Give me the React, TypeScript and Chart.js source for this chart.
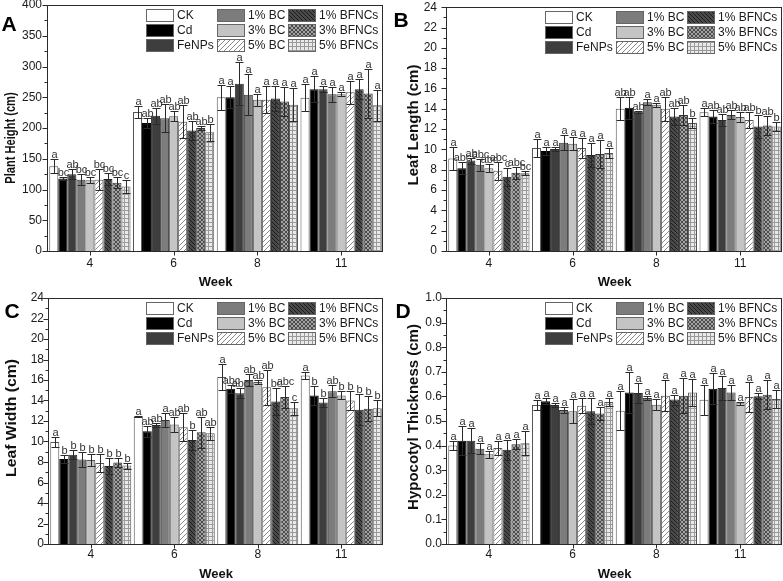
import React, { useEffect, useRef } from "react";
import { Chart, registerables } from "chart.js";
Chart.register(...registerables);

const FONT = "Arial, 'Liberation Sans', Helvetica, sans-serif";
Chart.defaults.font.family = FONT;

const weeks = ["4", "6", "8", "11"];
const treatments = ["CK", "Cd", "FeNPs", "1% BC", "3% BC", "5% BC", "1% BFNCs", "3% BFNCs", "5% BFNCs"];

// ---- A: Plant Height (rows = weeks, columns = treatments)
const heightMeans = [
  [138, 118, 125, 116, 115, 116, 117, 111, 105],
  [226, 208, 220, 216, 219, 210, 196, 200, 193],
  [250, 250, 272, 254, 246, 246, 248, 243, 238],
  [249, 263, 263, 255, 255, 258, 263, 256, 237],
];
const heightErrs = [
  [11, 3, 8, 9, 5, 17, 10, 9, 10],
  [9, 8, 13, 23, 8, 27, 16, 4, 14],
  [20, 18, 35, 33, 10, 22, 20, 24, 27],
  [22, 21, 5, 12, 3, 19, 16, 40, 25],
];
const heightSig = [
  ["a", "bc", "ab", "bc", "bc", "bc", "bc", "bc", "c"],
  ["a", "ab", "ab", "ab", "ab", "ab", "ab", "ab", "b"],
  ["a", "a", "a", "a", "a", "a", "a", "a", "a"],
  ["a", "a", "a", "a", "a", "a", "a", "a", "a"],
];

// ---- B: Leaf Length
const lengthMeans = [
  [9.1, 8.15, 8.9, 8.5, 8.15, 7.9, 7.3, 7.7, 7.65],
  [10.15, 9.85, 10.05, 10.65, 10.55, 10.15, 9.45, 9.55, 9.65],
  [14.0, 14.1, 13.7, 14.65, 14.4, 14.0, 13.25, 13.4, 12.6],
  [13.65, 13.25, 12.9, 13.4, 13.2, 12.9, 12.25, 12.35, 12.25],
];
const lengthErrs = [
  [1.1, 0.6, 0.3, 0.6, 0.4, 0.9, 0.9, 0.6, 0.2],
  [0.9, 0.4, 0.2, 0.75, 0.65, 0.95, 1.2, 1.4, 0.5],
  [1.15, 1.1, 0.1, 0.3, 0.2, 1.2, 0.85, 0.95, 0.5],
  [0.4, 0.65, 0.6, 0.45, 0.5, 0.8, 1.1, 0.9, 0.4],
];
const lengthSig = [
  ["a", "abc", "ab", "abc", "abc", "abc", "c", "abc", "bc"],
  ["a", "a", "a", "a", "a", "a", "a", "a", "a"],
  ["ab", "ab", "ab", "a", "a", "ab", "ab", "ab", "b"],
  ["a", "ab", "ab", "ab", "ab", "ab", "b", "ab", "b"],
];

// ---- C: Leaf Width
const widthMeans = [
  [9.95, 8.3, 8.7, 8.25, 8.2, 7.9, 7.6, 7.95, 7.65],
  [12.4, 11.0, 11.6, 12.1, 11.65, 11.4, 10.15, 10.9, 10.8],
  [16.3, 15.15, 14.7, 16.0, 15.8, 15.3, 13.9, 14.35, 13.25],
  [16.45, 14.5, 13.8, 14.9, 14.5, 14.0, 13.1, 13.2, 13.25],
];
const widthErrs = [
  [0.45, 0.4, 0.45, 0.7, 0.6, 0.9, 0.8, 0.4, 0.3],
  [0.05, 0.55, 0.2, 0.7, 0.75, 1.4, 1.0, 1.5, 0.65],
  [1.3, 0.4, 0.5, 0.6, 0.2, 1.7, 1.3, 1.05, 0.65],
  [0.35, 0.9, 0.45, 0.6, 0.4, 0.9, 1.5, 1.2, 0.75],
];
const widthSig = [
  ["a", "b", "b", "b", "b", "b", "b", "b", "b"],
  ["a", "ab", "ab", "a", "ab", "ab", "b", "ab", "ab"],
  ["a", "abc", "abc", "ab", "ab", "ab", "bc", "abc", "c"],
  ["a", "b", "b", "ab", "b", "b", "b", "b", "b"],
];

// ---- D: Hypocotyl Thickness
const hypoMeans = [
  [0.4, 0.42, 0.42, 0.387, 0.365, 0.39, 0.383, 0.405, 0.41],
  [0.565, 0.58, 0.565, 0.545, 0.54, 0.562, 0.54, 0.53, 0.577],
  [0.542, 0.616, 0.614, 0.593, 0.566, 0.603, 0.587, 0.603, 0.616],
  [0.586, 0.631, 0.634, 0.616, 0.572, 0.598, 0.601, 0.607, 0.589],
];
const hypoErrs = [
  [0.018, 0.06, 0.05, 0.022, 0.015, 0.03, 0.04, 0.02, 0.048],
  [0.02, 0.012, 0.008, 0.013, 0.05, 0.03, 0.054, 0.027, 0.015],
  [0.078, 0.082, 0.04, 0.008, 0.022, 0.064, 0.02, 0.07, 0.055],
  [0.062, 0.063, 0.047, 0.03, 0.005, 0.062, 0.012, 0.06, 0.035],
];
const hypoSig = [
  ["a", "a", "a", "a", "a", "a", "a", "a", "a"],
  ["a", "a", "a", "a", "a", "a", "a", "a", "a"],
  ["a", "a", "a", "a", "a", "a", "a", "a", "a"],
  ["a", "a", "a", "a", "a", "a", "a", "a", "a"],
];

// ---------- fills ----------
function makePattern(kind: string): CanvasPattern | string {
  const c = document.createElement("canvas");
  const s = kind === "slash" ? 5 : 4;
  c.width = s;
  c.height = s;
  const g = c.getContext("2d")!;
  if (kind === "slash") {
    g.fillStyle = "#ffffff";
    g.fillRect(0, 0, s, s);
    g.fillStyle = "#8a8a8a";
    for (let i = 0; i < s; i++) g.fillRect(i, s - 1 - i, 1, 1);
  } else if (kind === "back") {
    g.fillStyle = "#4a4a4a";
    g.fillRect(0, 0, s, s);
    g.fillStyle = "#1c1c1c";
    for (let i = 0; i < s; i++) g.fillRect(i, i, 1, 1);
  } else if (kind === "cross") {
    g.fillStyle = "#a2a2a2";
    g.fillRect(0, 0, s, s);
    g.fillStyle = "#4c4c4c";
    for (let i = 0; i < s; i++) {
      g.fillRect(i, i, 1, 1);
      g.fillRect(i, s - 1 - i, 1, 1);
    }
  } else {
    g.fillStyle = "#eaeaea";
    g.fillRect(0, 0, s, s);
    g.fillStyle = "#9a9a9a";
    g.fillRect(0, 0, s, 1);
    g.fillRect(0, 0, 1, s);
  }
  return g.createPattern(c, "repeat")!;
}

function fills(): (string | CanvasPattern)[] {
  return [
    "#ffffff",
    "#000000",
    "#3e3e3e",
    "#7c7c7c",
    "#c4c4c4",
    makePattern("slash"),
    makePattern("back"),
    makePattern("cross"),
    makePattern("grid"),
  ];
}
const borders = ["#555555", "#000000", "#2a2a2a", "#333333", "#555555", "#555555", "#222222", "#333333", "#555555"];

type Cfg = {
  letter: string;
  yTitle: string;
  means: number[][];
  errs: number[][];
  sig: string[][];
  max: number;
  step: number;
  decimals: number;
  cl: number; ct: number; cw: number; ch: number;
  al: number; at: number; ar: number; ab: number;
  yPad: number;
  xPad: number;
  letterX: number; letterY: number;
  yTitleX: number;
  yTitleY: number;
  yTitleScale: number;
  xTitleY: number;
};

function Panel({ cfg }: { cfg: Cfg }) {
  const ref = useRef<HTMLCanvasElement | null>(null);
  useEffect(() => {
    const canvas = ref.current!;
    const fl = fills();
    const datasets = treatments.map((t, ti) => ({
      label: t,
      data: weeks.map((_, wi) => cfg.means[wi][ti]),
      backgroundColor: fl[ti] as any,
      borderColor: borders[ti],
      borderWidth: 1,
      categoryPercentage: 0.97,
      barPercentage: 1.0,
    }));
    const ox = cfg.cl, oy = cfg.ct;
    const deco = {
      id: "deco",
      afterDatasetsDraw(chart: any) {
        const ctx = chart.ctx as CanvasRenderingContext2D;
        const ys = chart.scales.y;
        ctx.save();
        ctx.strokeStyle = "#2a2a2a";
        ctx.lineWidth = 1;
        ctx.fillStyle = "#333333";
        ctx.font = `11px ${FONT}`;
        ctx.textAlign = "center";
        ctx.textBaseline = "alphabetic";
        chart.data.datasets.forEach((ds: any, ti: number) => {
          const meta = chart.getDatasetMeta(ti);
          meta.data.forEach((bar: any, wi: number) => {
            const v = cfg.means[wi][ti];
            const e = cfg.errs[wi][ti];
            const x = Math.round(bar.x) + 0.5;
            const half = Math.max(2, Math.round(bar.width * 0.42));
            const yt = Math.round(ys.getPixelForValue(v + e)) + 0.5;
            const yb = Math.round(ys.getPixelForValue(v - e)) + 0.5;
            ctx.beginPath();
            ctx.moveTo(x, yt);
            ctx.lineTo(x, yb);
            ctx.moveTo(x - half, yt);
            ctx.lineTo(x + half, yt);
            ctx.moveTo(x - half, yb);
            ctx.lineTo(x + half, yb);
            ctx.stroke();
            ctx.fillText(cfg.sig[wi][ti], x, yt - 2);
          });
        });
        ctx.restore();
      },
      afterDraw(chart: any) {
        const ctx = chart.ctx as CanvasRenderingContext2D;
        const { left, top, right, bottom } = chart.chartArea;
        const ys = chart.scales.y;
        const xs = chart.scales.x;
        ctx.save();
        // frame
        ctx.strokeStyle = "#2a2a2a";
        ctx.lineWidth = 1;
        const L = Math.round(left) - 0.5, R = Math.round(right) - 0.5;
        const T = Math.round(top) + 0.5, B = Math.round(bottom) + 0.5;
        ctx.strokeRect(L, T, R - L, B - T);
        // y ticks
        ctx.beginPath();
        const tickVals: number[] = ys.ticks.map((t: any) => t.value);
        tickVals.forEach((v, i) => {
          const py = Math.round(ys.getPixelForValue(v)) + 0.5;
          ctx.moveTo(L - 5, py);
          ctx.lineTo(L, py);
          if (i < tickVals.length - 1) {
            const mv = (v + tickVals[i + 1]) / 2;
            const my = Math.round(ys.getPixelForValue(mv)) + 0.5;
            ctx.moveTo(L - 3, my);
            ctx.lineTo(L, my);
          }
        });
        // x ticks
        weeks.forEach((_, i) => {
          const px = Math.round(xs.getPixelForValue(i)) + 0.5;
          ctx.moveTo(px, B);
          ctx.lineTo(px, B + 4);
        });
        ctx.stroke();

        // legend
        const colX = [right - 237, right - 166, right - 95];
        const order = [
          [0, 1, 2],
          [3, 4, 5],
          [6, 7, 8],
        ];
        ctx.font = `12px ${FONT}`;
        ctx.textAlign = "left";
        ctx.textBaseline = "middle";
        order.forEach((col, c) => {
          col.forEach((ti, r) => {
            const cy = top + 10 + r * 15;
            const bx = Math.round(colX[c]) + 0.5;
            const by = Math.round(cy - 6) + 0.5;
            ctx.fillStyle = fl[ti] as any;
            ctx.fillRect(bx, by, 27, 12);
            ctx.strokeStyle = "#666666";
            ctx.strokeRect(bx, by, 27, 12);
            ctx.fillStyle = "#1a1a1a";
            ctx.fillText(treatments[ti], colX[c] + 31, cy + 0.5);
          });
        });

        // titles
        ctx.fillStyle = "#111111";
        ctx.font = `bold 13px ${FONT}`;
        ctx.textAlign = "center";
        ctx.textBaseline = "middle";
        ctx.fillText("Week", (left + right) / 2, cfg.xTitleY - oy);
        ctx.save();
        ctx.translate(cfg.yTitleX - ox, cfg.yTitleY - oy);
        ctx.rotate(-Math.PI / 2);
        ctx.scale(cfg.yTitleScale, 1);
        ctx.font = `bold 15px ${FONT}`;
        ctx.fillText(cfg.yTitle, 0, 0);
        ctx.restore();
        // panel letter
        ctx.font = `bold 21px ${FONT}`;
        ctx.fillStyle = "#000000";
        ctx.fillText(cfg.letter, cfg.letterX - ox, cfg.letterY - oy);
        ctx.restore();
      },
    };

    const chart = new Chart(canvas, {
      type: "bar",
      data: { labels: weeks, datasets },
      options: {
        animation: false,
        responsive: false,
        devicePixelRatio: 1,
        layout: {
          padding: { top: cfg.at - cfg.ct, right: cfg.cl + cfg.cw - cfg.ar, left: 0, bottom: 0 },
        },
        plugins: { legend: { display: false }, tooltip: { enabled: false } },
        scales: {
          x: {
            grid: { display: false, drawTicks: false },
            border: { display: false },
            ticks: { color: "#1a1a1a", font: { size: 12 }, padding: cfg.xPad },
            afterFit: (s: any) => {
              s.height = cfg.ct + cfg.ch - cfg.ab;
            },
          },
          y: {
            min: 0,
            max: cfg.max,
            grid: { display: false, drawTicks: false },
            border: { display: false },
            ticks: {
              stepSize: cfg.step,
              color: "#1a1a1a",
              font: { size: 12 },
              padding: cfg.yPad,
              callback: (v: any) => Number(v).toFixed(cfg.decimals),
            },
            afterFit: (s: any) => {
              s.width = cfg.al - cfg.cl;
            },
          },
        },
      } as any,
      plugins: [deco as any],
    });
    return () => chart.destroy();
  }, [cfg]);
  return (
    <canvas
      ref={ref}
      width={cfg.cw}
      height={cfg.ch}
      style={{ position: "absolute", left: cfg.cl, top: cfg.ct, width: cfg.cw, height: cfg.ch, display: "block" }}
    />
  );
}

const panels: Cfg[] = [
  {
    letter: "A", yTitle: "Plant Height (cm)", means: heightMeans, errs: heightErrs, sig: heightSig,
    max: 400, step: 50, decimals: 0,
    cl: 0, ct: -10, cw: 390, ch: 300, al: 48, at: 5, ar: 383, ab: 251,
    yPad: 6, xPad: 5, letterX: 9, letterY: 25, yTitleX: 11, yTitleY: 138, yTitleScale: 0.74, xTitleY: 282,
  },
  {
    letter: "B", yTitle: "Leaf Length (cm)", means: lengthMeans, errs: lengthErrs, sig: lengthSig,
    max: 24, step: 2, decimals: 0,
    cl: 390, ct: -10, cw: 393, ch: 300, al: 447, at: 5, ar: 782, ab: 251,
    yPad: 10, xPad: 5, letterX: 401, letterY: 21, yTitleX: 414, yTitleY: 125, yTitleScale: 1, xTitleY: 282,
  },
  {
    letter: "C", yTitle: "Leaf Width (cm)", means: widthMeans, errs: widthErrs, sig: widthSig,
    max: 24, step: 2, decimals: 0,
    cl: 0, ct: 280, cw: 390, ch: 301, al: 49, at: 298, ar: 383, ab: 544,
    yPad: 5, xPad: 3, letterX: 12, letterY: 312, yTitleX: 12, yTitleY: 418, yTitleScale: 1.05, xTitleY: 574,
  },
  {
    letter: "D", yTitle: "Hypocotyl Thickness (cm)", means: hypoMeans, errs: hypoErrs, sig: hypoSig,
    max: 1.0, step: 0.1, decimals: 1,
    cl: 390, ct: 280, cw: 393, ch: 301, al: 447, at: 298, ar: 782, ab: 544,
    yPad: 5, xPad: 3, letterX: 403, letterY: 312, yTitleX: 414, yTitleY: 417, yTitleScale: 1, xTitleY: 574,
  },
];

export default function App() {
  return (
    <div>
      {panels.map((p) => (
        <Panel key={p.letter} cfg={p} />
      ))}
    </div>
  );
}
